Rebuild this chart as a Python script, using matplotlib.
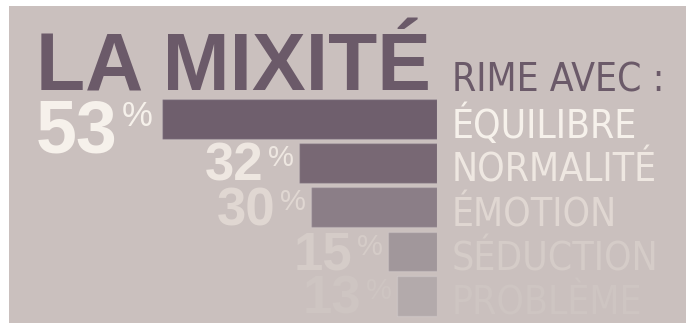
import numpy as np
import matplotlib
matplotlib.use("Agg")
import matplotlib.pyplot as plt
from matplotlib import font_manager as fm

# data
words = ["ÉQUILIBRE", "NORMALITÉ", "ÉMOTION", "SÉDUCTION", "PROBLÈME"]
values = [53, 32, 30, 15, 13]
title = "LA MIXITÉ"
subtitle = "RIME AVEC :"

bar_colors = ["#6f5f6d", "#786874", "#8b7e87", "#a1979b", "#b3aaab"]
txt_colors = ["#f6f1eb", "#eee7e1", "#e0d7d2", "#d5ccc8", "#cec5c2"]
bg = "#cac0be"
dark = "#6b5a69"

# look for a narrow / condensed sans, else fall back to Liberation Sans
cond = [f for f in fm.fontManager.ttflist
        if ("Narrow" in f.name or "Condensed" in f.fname or "Condensed" in f.name)
        and f.style == "normal" and f.weight in (400, "normal", "regular", "book")]
if cond:
    narrow = fm.FontProperties(fname=cond[0].fname)
    lab_size, sub_size = 28, 28
else:
    narrow = fm.FontProperties(family="Liberation Sans")
    lab_size, sub_size = 24.5, 25
bold = "Liberation Sans"

W, H = 686, 323
fig = plt.figure(figsize=(W / 100, H / 100), dpi=100)
fig.patch.set_facecolor("white")

# background panel (white strip on the left and top)
bgax = fig.add_axes([9 / W, 0, 1 - 9 / W, 1 - 6 / H])
bgax.set_facecolor(bg)
bgax.set_xticks([])
bgax.set_yticks([])
for s in bgax.spines.values():
    s.set_visible(False)

# bar axes: right edge at px 437, bars grow to the left
p = 1.37
fwd = lambda x: np.sign(x) * np.abs(x) ** p
inv = lambda x: np.sign(x) * np.abs(x) ** (1 / p)
ax = fig.add_axes([162 / W, 1 - 318 / H, 275 / W, (318 - 96.5) / H])
ax.set_xscale("function", functions=(fwd, inv))
ax.patch.set_alpha(0)
y = np.arange(len(values))
ax.barh(y, values, height=0.9, color=bar_colors,
        edgecolor=(1, 1, 1, 0.15), linewidth=1)
ax.set_xlim(max(values), 0)
ax.set_ylim(len(values) - 0.5, -0.5)
ax.axis("off")

fig.canvas.draw()
r = fig.canvas.get_renderer()

for i, (v, w) in enumerate(zip(values, words)):
    big = i == 0
    gap = -9 if big else -5
    pct = ax.annotate("%", xy=(v, i - 0.45), xytext=(gap, -1),
                      textcoords="offset pixels", ha="right", va="top",
                      fontsize=25 if big else 21, family=bold,
                      color=txt_colors[i], annotation_clip=False)
    bb = pct.get_window_extent(r)
    xpx = bb.x0 - 5
    ybase = ax.transData.transform((v, i + 0.45))[1]
    fig.text(xpx / W, (ybase - (14 if big else -2)) / H, str(v),
             ha="right", va="baseline", fontsize=53 if big else 38,
             family=bold, weight="bold", color=txt_colors[i])
    t = ax.annotate(w, xy=(0, i + 0.45), xytext=(15, 1),
                    textcoords="offset pixels", ha="left", va="baseline",
                    color=txt_colors[i], annotation_clip=False)
    t.set_fontproperties(narrow)
    t.set_fontsize(lab_size)

fig.text(36 / W, 1 - 91 / H, title, ha="left", va="baseline",
         fontsize=58, family=bold, weight="bold", color=dark)
st = fig.text(452 / W, 1 - 92 / H, subtitle, ha="left", va="baseline",
              color=dark)
st.set_fontproperties(narrow)
st.set_fontsize(sub_size)

fig.savefig("out.png", dpi=100, facecolor=fig.get_facecolor())
